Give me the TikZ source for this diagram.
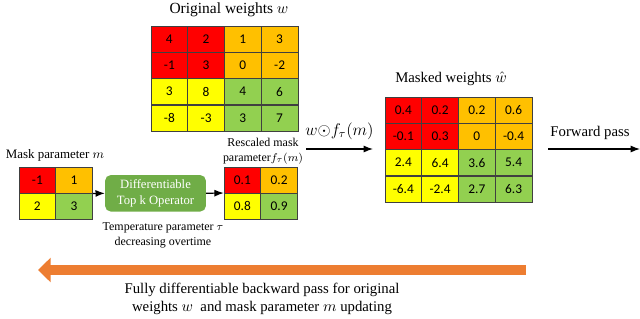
\documentclass[tikz,border=0pt]{standalone}
\usepackage{fontspec}
\setmainfont{Liberation Serif}
\newfontfamily\cellfont{Carlito}
\usetikzlibrary{arrows.meta}
\definecolor{qred}{HTML}{FF0000}
\definecolor{qorange}{HTML}{FFC000}
\definecolor{qyellow}{HTML}{FFFF00}
\definecolor{qgreen}{HTML}{92D050}
\definecolor{opgreen}{HTML}{70AD47}
\definecolor{backorange}{HTML}{ED7D31}

% one row of coloured cells: name prefix, left x, centre y, value/colour list
\newcommand{\cellrow}[4]{%
  \foreach \v/\col [count=\j] in {#4}
    \node[cell, fill=\col] (#1\j) at ({#2+(\j-0.5)*36.75},#3) {\v};}

\begin{document}
\begin{tikzpicture}[x=0.025cm, y=-0.025cm, >=Latex, font=\fontsize{10.5}{12.5}\selectfont,
    cell/.style={draw=black!75, minimum width=9.19mm, minimum height=6.56mm, inner sep=0pt,
      font=\cellfont\fontsize{9.5}{11}\selectfont},
    lbl/.style={align=center, font=\fontsize{8.5}{10.5}\selectfont},
    flow/.style={->, line width=0.8pt}]

    \useasboundingbox (0,0) rectangle (640,318);

    % original weights
    \node[font=\fontsize{11}{13}\selectfont, inner sep=1pt] (wtitle) at (229,10) {Original weights $w$};
    \cellrow{w1}{151}{39.1}{4/qred,2/qred,1/qorange,3/qorange}
    \cellrow{w2}{151}{65.4}{-1/qred,3/qred,0/qorange,-2/qorange}
    \cellrow{w3}{151}{91.6}{3/qyellow,8/qyellow,4/qgreen,6/qgreen}
    \cellrow{w4}{151}{117.9}{-8/qyellow,-3/qyellow,3/qgreen,7/qgreen}

    % mask parameter and top k operator
    \node[font=\fontsize{9.2}{11}\selectfont, inner sep=1pt] (mtitle) at (55,155) {Mask parameter $m$};
    \cellrow{m1}{19}{180.1}{-1/qred,1/qorange}
    \cellrow{m2}{19}{206.4}{2/qyellow,3/qgreen}
    \node[fill=opgreen, rounded corners=4pt, minimum width=25.2mm, minimum height=8.4mm,
      text=white, lbl, font=\fontsize{9}{11}\selectfont] (op) at (155.5,193.3)
      {Differentiable\\Top k Operator};
    \node[lbl] (temp) at (163,235.5) {Temperature parameter $\tau$\\decreasing overtime};
    \draw[flow] (m12.south east) -- (op.west);

    % rescaled mask
    \node[lbl] (rtitle) at (263,151) {Rescaled mask\\parameter$f_\tau(m)$};
    \cellrow{r1}{224}{180.1}{0.1/qred,0.2/qorange}
    \cellrow{r2}{224}{206.4}{0.8/qyellow,0.9/qgreen}
    \draw[flow] (op.east) -- (r21.north west);

    % masked weights
    \node[font=\fontsize{10.5}{12.5}\selectfont, inner sep=1pt] (htitle) at (451,79) {Masked weights $\hat{w}$};
    \cellrow{h1}{385}{110.1}{0.4/qred,0.2/qred,0.2/qorange,0.6/qorange}
    \cellrow{h2}{385}{136.4}{-0.1/qred,0.3/qred,0/qorange,-0.4/qorange}
    \cellrow{h3}{385}{162.6}{2.4/qyellow,6.4/qyellow,3.6/qgreen,5.4/qgreen}
    \cellrow{h4}{385}{188.9}{-6.4/qyellow,-2.4/qyellow,2.7/qgreen,6.3/qgreen}

    \coordinate (prodL) at (306,149);
    \coordinate (prodR) at (373,149);
    \draw[flow] (prodL) -- (prodR) node[midway, above=3pt, font=\fontsize{11.5}{13}\selectfont] (prod) {$w{\odot}f_\tau(m)$};
    \coordinate (fwdL) at (548,149);
    \coordinate (fwdR) at (640,149);
    \draw[flow] (fwdL) -- (fwdR);
    \node (fwd) at (590,133) {Forward pass};

    % backward pass
    \coordinate (backR) at (526,270);
    \coordinate (backL) at (38,270);
    \draw[backorange, line width=7.8pt, -{Triangle[width=17pt,length=9pt]}] (backR) -- (backL);
    \node[align=center] (back) at (262,299)
      {Fully differentiable backward pass for original\\weights $w$\enspace and mask parameter $m$ updating};
\end{tikzpicture}
\end{document}
